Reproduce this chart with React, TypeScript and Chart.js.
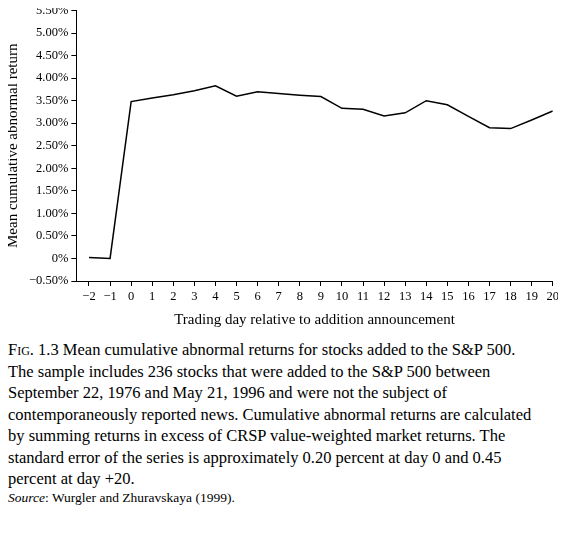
import { useEffect, useRef } from 'react';
import Chart from 'chart.js/auto';

const days = [-2, -1, 0, 1, 2, 3, 4, 5, 6, 7, 8, 9, 10, 11, 12, 13, 14, 15, 16, 17, 18, 19, 20];
const car = [0.02, 0.0, 3.48, 3.56, 3.63, 3.72, 3.83, 3.6, 3.7, 3.66, 3.62, 3.59, 3.33, 3.31, 3.16, 3.23, 3.5, 3.41, 3.15, 2.9, 2.88, 3.07, 3.27];
const yTicks = [-0.5, 0, 0.5, 1, 1.5, 2, 2.5, 3, 3.5, 4, 4.5, 5, 5.5];

const fmtPct = (v: number) => (v === 0 ? '0%' : (v < 0 ? '\u2212' : '') + Math.abs(v).toFixed(2) + '%');
const fmtDay = (v: number) => (v < 0 ? '\u2212' + Math.abs(v) : String(v));

const App = () => {
    const chartRef = useRef<HTMLCanvasElement | null>(null);

    useEffect(() => {
        const ctx = chartRef.current;
        if (!ctx) return;
        const font = { family: "'Liberation Serif', 'DejaVu Serif', serif", size: 12.5 };
        const chart = new Chart(ctx, {
            type: 'line',
            data: {
                datasets: [{
                    data: days.map((d, i) => ({ x: d, y: car[i] })),
                    borderColor: '#000',
                    borderWidth: 1.5,
                    pointRadius: 0,
                    tension: 0,
                }]
            },
            options: {
                responsive: false,
                animation: false,
                layout: { padding: { right: 8, top: 10 } },
                plugins: { legend: { display: false }, tooltip: { enabled: false } },
                scales: {
                    x: {
                        type: 'linear',
                        min: -2.6,
                        max: 20,
                        afterBuildTicks: (axis: any) => { axis.ticks = days.map(v => ({ value: v })); },
                        ticks: { color: '#000', font, maxRotation: 0, autoSkip: false, callback: (v: any) => fmtDay(Number(v)) },
                        grid: { drawOnChartArea: false, color: '#000', tickLength: 5 },
                        border: { color: '#000' },
                        title: { display: true, text: 'Trading day relative to addition announcement', color: '#000', font: { ...font, size: 15 } },
                    },
                    y: {
                        min: -0.5,
                        max: 5.5,
                        afterBuildTicks: (axis: any) => { axis.ticks = yTicks.map(v => ({ value: v })); },
                        ticks: { color: '#000', font, callback: (v: any) => fmtPct(Number(v)) },
                        grid: { drawOnChartArea: false, color: '#000', tickLength: 5 },
                        border: { color: '#000' },
                        title: { display: true, text: 'Mean cumulative abnormal return', color: '#000', font: { ...font, size: 15 } },
                    },
                },
            },
        });
        return () => { chart.destroy(); };
    }, []);

    return (
        <div style={{ fontFamily: "'Liberation Serif', serif", color: '#000' }}>
            <canvas ref={chartRef} width={562} height={333} style={{ display: 'block', margin: '-8px 0 0 -8px' }}></canvas>
            <div style={{ fontSize: 16.5, lineHeight: '21.5px', paddingTop: 6, width: 540 }}>
                <div><span style={{ fontVariant: 'small-caps' }}>Fig.</span> 1.3 Mean cumulative abnormal returns for stocks added to the S&amp;P 500.</div>
                <div>The sample includes 236 stocks that were added to the S&amp;P 500 between September 22, 1976 and May 21, 1996 and were not the subject of contemporaneously reported news. Cumulative abnormal returns are calculated by summing returns in excess of CRSP value-weighted market returns. The standard error of the series is approximately 0.20 percent at day 0 and 0.45 percent at day +20.</div>
                <div style={{ fontSize: 13.5, lineHeight: '16px' }}><i>Source</i>: Wurgler and Zhuravskaya (1999).</div>
            </div>
        </div>
    );
};
export default App;
